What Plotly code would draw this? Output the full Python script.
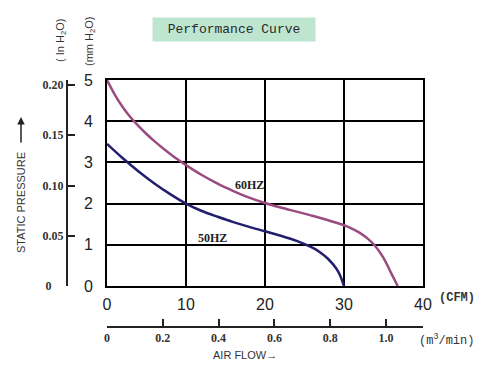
import plotly.graph_objects as go

# ---------------- data ----------------
flow_60 = [0, 1, 2, 3, 4, 5, 6, 7, 8, 9, 10, 12, 14, 16, 18, 20, 22, 24, 26, 28, 30, 31, 32, 33, 34, 35, 36, 36.8]
pres_60 = [5, 4.64, 4.34, 4.09, 3.88, 3.69, 3.515, 3.355, 3.205, 3.065, 2.935, 2.695, 2.485, 2.305, 2.145,
           2.015, 1.905, 1.805, 1.705, 1.595, 1.475, 1.395, 1.29, 1.15, 0.96, 0.68, 0.30, 0]

flow_50 = [0, 2, 4, 6, 8, 10, 12, 14, 16, 18, 20, 22, 24, 26, 27, 28, 29, 29.5, 30]
pres_50 = [3.45, 3.10, 2.78, 2.49, 2.23, 2.0, 1.82, 1.68, 1.55, 1.435, 1.33, 1.22, 1.095, 0.93, 0.815,
           0.655, 0.43, 0.26, 0]

cfm_ticks = [0, 10, 20, 30, 40]
mm_ticks = [0, 1, 2, 3, 4, 5]
inch_ticks = [0, 0.05, 0.10, 0.15, 0.20]
inch_labels = ["0", "0.05", "0.10", "0.15", "0.20"]
m3_ticks = [0, 0.2, 0.4, 0.6, 0.8, 1.0]
m3_labels = ["0", "0.2", "0.4", "0.6", "0.8", "1.0"]

curve_labels = ["60HZ", "50HZ"]
curve_label_x = [18.0, 13.4]
curve_label_y = [2.45, 1.16]

# the page body has an 8px margin, so the figure is drawn 8px in from the window edge
OFF = 8
W, H = 488 - 2 * OFF, 371 - 2 * OFF
PL, PR, PT, PB = 107, 423, 80, 286  # plot area in window pixels

def px(x):
    return (x - OFF) / W

def py(y):
    return 1 - (y - OFF) / H

fig = go.Figure()
fig.add_trace(go.Scatter(x=flow_60, y=pres_60, mode="lines",
                         line=dict(color="#9a4c80", width=2.5, shape="spline", smoothing=0.8),
                         showlegend=False, hoverinfo="skip"))
fig.add_trace(go.Scatter(x=flow_50, y=pres_50, mode="lines",
                         line=dict(color="#22206e", width=2.5, shape="spline", smoothing=0.8),
                         showlegend=False, hoverinfo="skip"))

ydom = [py(PB), py(PT)]
m3_span = (PR - PL) / 279.0  # 1 m3/min = 35.31 CFM ~ 279 px

serif_bold = dict(family="Liberation Serif, Times New Roman", size=12, color="#333")
inch_text = ["<b>" + t + "</b>" for t in inch_labels]
inch_text[0] = "<b>" + inch_labels[0] + "</b>\u00a0\u00a0\u00a0\u00a0"

fig.update_layout(
    width=W, height=H, autosize=False,
    margin=dict(l=0, r=0, t=0, b=0, pad=0),
    paper_bgcolor="white", plot_bgcolor="white",
    xaxis=dict(domain=[px(PL), px(PR)], range=[0, 40], tickvals=cfm_ticks, automargin=False,
               showgrid=True, gridcolor="black", gridwidth=2,
               showline=True, mirror=True, linecolor="black", linewidth=2,
               zeroline=False, ticks="outside", ticklen=3, tickcolor="rgba(0,0,0,0)",
               tickfont=dict(family="Liberation Sans, Arial", size=16, color="#222")),
    yaxis=dict(domain=ydom, range=[0, 5], tickvals=mm_ticks, automargin=False,
               showgrid=True, gridcolor="black", gridwidth=2,
               showline=True, mirror=True, linecolor="black", linewidth=2,
               zeroline=False, ticks="outside", ticklen=9, tickcolor="rgba(0,0,0,0)",
               tickfont=dict(family="Liberation Sans, Arial", size=16, color="#222")),
    yaxis2=dict(overlaying="y", anchor="free", position=px(67), side="left", automargin=False,
                range=[0, 0.20 * 206 / 201], tickvals=inch_ticks, ticktext=inch_text,
                showline=True, linecolor="#222", linewidth=2, showgrid=False, zeroline=False,
                ticks="inside", ticklen=7, tickwidth=2, tickcolor="#222", tickfont=serif_bold),
    xaxis2=dict(overlaying="x", anchor="free", position=py(327), side="bottom", automargin=False,
                range=[0, m3_span], tickvals=m3_ticks + [m3_span],
                ticktext=["<b>" + t + "</b>" for t in m3_labels] + [""],
                showline=True, linecolor="#222", linewidth=2, showgrid=False, zeroline=False,
                ticks="inside", ticklen=7, tickwidth=2, tickcolor="#222", tickfont=serif_bold),
)
# invisible trace so the secondary axes are drawn
fig.add_trace(go.Scatter(x=[0], y=[0], xaxis="x2", yaxis="y2", mode="markers",
                         marker=dict(opacity=0), showlegend=False, hoverinfo="skip"))

ann = []
for t, x, y in zip(curve_labels, curve_label_x, curve_label_y):
    ann.append(dict(x=x, y=y, xref="x", yref="y", text="<b>" + t + "</b>", showarrow=False,
                    xanchor="center", yanchor="middle",
                    font=dict(family="Liberation Serif, Times New Roman", size=12, color="#222")))

def pann(x, y, text, **kw):
    d = dict(x=px(x), y=py(y), xref="paper", yref="paper", text=text, showarrow=False,
             xanchor="center", yanchor="middle")
    d.update(kw)
    return d

ann += [
    pann(234, 29, "Performance Curve", bgcolor="#bde5d0", width=160, height=21,
         font=dict(family="Liberation Mono, DejaVu Sans Mono", size=13, color="#2a2a2a")),
    pann(61, 41, "( In H<sub>2</sub>O)", textangle=-90,
         font=dict(family="Liberation Sans, Arial", size=11, color="#333")),
    pann(90, 41, "(mm H<sub>2</sub>O)", textangle=-90,
         font=dict(family="Liberation Sans, Arial", size=11, color="#333")),
    pann(21, 203, "STATIC PRESSURE", textangle=-90,
         font=dict(family="Liberation Sans, Arial", size=11, color="#333")),
    dict(x=px(21), y=py(117), xref="paper", yref="paper", text="", showarrow=True,
         ax=0, ay=27, arrowhead=2, arrowsize=1, arrowwidth=1.5, arrowcolor="#222"),
    pann(457, 298, "<b>(CFM)</b>",
         font=dict(family="Liberation Mono, DejaVu Sans Mono", size=12, color="#333")),
    pann(446, 340, "(m<sup>3</sup>/min)",
         font=dict(family="Liberation Mono, DejaVu Sans Mono", size=12, color="#333")),
    pann(245, 355, "AIR FLOW\u2192",
         font=dict(family="Liberation Sans, Arial", size=11, color="#333")),
]
fig.update_layout(annotations=ann)

fig.write_html("out.html")
